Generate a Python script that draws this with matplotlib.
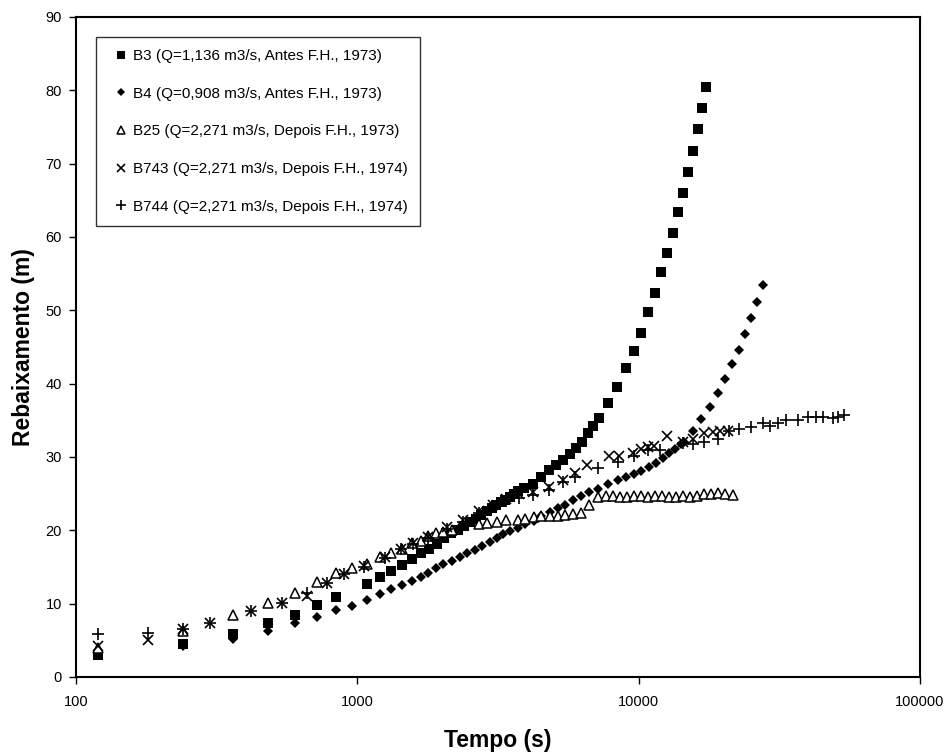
import matplotlib
matplotlib.use("Agg")
import matplotlib.pyplot as plt

plt.rcParams['font.family'] = ['Liberation Sans', 'DejaVu Sans']

# B3 - squares
b3_t = [120, 240, 360, 480, 600, 720, 840, 1080, 1200, 1320, 1440, 1560, 1680,
        1800, 1920, 2040, 2160, 2280, 2400, 2520, 2640, 2760, 2880, 3000, 3120,
        3240, 3360, 3480, 3600, 3720, 3900, 4200, 4500, 4800, 5100, 5400, 5700,
        6000, 6300, 6600, 6900, 7200, 7800, 8400, 9000, 9600, 10200, 10800,
        11400, 12000, 12600, 13200, 13800, 14400, 15000, 15600, 16200, 16800, 17400]
b3_s = [3.0, 4.5, 5.9, 7.3, 8.5, 9.8, 10.9, 12.7, 13.7, 14.5, 15.3, 16.1, 16.9,
        17.5, 18.2, 18.9, 19.6, 20.1, 20.6, 21.2, 21.6, 22.1, 22.6, 23.0, 23.4,
        23.8, 24.2, 24.6, 25.0, 25.3, 25.8, 26.3, 27.3, 28.2, 28.9, 29.6, 30.4,
        31.2, 32.0, 33.3, 34.2, 35.3, 37.4, 39.5, 42.1, 44.5, 46.9, 49.8,
        52.4, 55.2, 57.8, 60.5, 63.4, 66.0, 68.9, 71.7, 74.7, 77.6, 80.5]

# B4 - diamonds
b4_t = [120, 240, 360, 480, 600, 720, 840, 960, 1080, 1200, 1320, 1440, 1560,
        1680, 1790, 1910, 2020, 2170, 2310, 2460, 2610, 2780, 2950, 3140, 3290,
        3490, 3710, 3960, 4230, 4510, 4830, 5150, 5490, 5860, 6250, 6670, 7140,
        7760, 8410, 8990, 9600, 10160, 10860, 11490, 12170, 12780, 13430, 14100,
        14450, 15560, 16630, 17900, 19100, 20230, 21430, 22700, 23900, 25060,
        26320, 27630]
b4_s = [3.3, 4.2, 5.2, 6.3, 7.3, 8.2, 9.1, 9.7, 10.5, 11.3, 12.0, 12.6, 13.1,
        13.7, 14.2, 14.9, 15.4, 15.8, 16.3, 16.9, 17.3, 17.9, 18.4, 18.9, 19.5,
        19.9, 20.3, 20.8, 21.3, 21.9, 22.5, 23.0, 23.5, 24.1, 24.7, 25.2, 25.7,
        26.3, 26.8, 27.3, 27.7, 28.1, 28.6, 29.2, 29.8, 30.5, 31.1, 31.8,
        32.0, 33.5, 35.2, 36.8, 38.7, 40.6, 42.7, 44.6, 46.8, 49.0,
        51.1, 53.5]

# B25 - open triangles
b25_t = [120, 240, 360, 480, 600, 720, 840, 960, 1080, 1200, 1320, 1440, 1560,
         1680, 1790, 1910, 2020, 2170, 2700, 2900, 3130, 3380, 3710, 3960,
         4230, 4510, 4830, 5150, 5490, 5860, 6250, 6670, 7140, 7630, 8080, 8560,
         9070, 9600, 10170, 10770, 11400, 12080, 12790, 13540, 14340, 15190,
         16090, 17030, 18040, 19100, 20230, 21600]
b25_s = [4.0, 6.3, 8.4, 10.1, 11.5, 13.0, 14.2, 14.9, 15.4, 16.4, 16.9, 17.4, 18.3,
         18.6, 19.2, 19.6, 19.8, 20.1, 20.9, 21.0, 21.2, 21.4, 21.4, 21.6,
         21.8, 21.9, 22.0, 22.0, 22.1, 22.2, 22.3, 23.5, 24.5, 24.7, 24.7, 24.6,
         24.6, 24.7, 24.7, 24.6, 24.7, 24.7, 24.6, 24.6, 24.7, 24.6,
         24.7, 25.0, 25.0, 25.1, 25.0, 24.8]

# B743 - x
b743_t = [120, 180, 240, 300, 420, 540, 660, 780, 900, 1060, 1250, 1430, 1580,
          1790, 2090, 2380, 2700, 3030, 3380, 3740, 4200, 4790, 5400, 5920,
          6560, 7820, 8480, 9530, 10160, 10770, 11300, 12650, 14340, 15560,
          17050, 18330, 19450, 20750]
b743_s = [4.2, 5.0, 6.5, 7.4, 9.0, 10.1, 11.0, 12.8, 14.0, 15.2, 16.3, 17.5, 18.3,
          19.1, 20.4, 21.4, 22.6, 23.5, 24.3, 24.9, 25.2, 25.9, 26.9, 27.8,
          28.9, 30.1, 30.1, 30.5, 31.1, 31.4, 31.5, 32.9, 32.0, 32.5,
          33.3, 33.4, 33.6, 33.5]

# B744 - +
b744_t = [120, 180, 240, 300, 420, 540, 660, 780, 900, 1060, 1250, 1430, 1580,
          1790, 2090, 2380, 2700, 3030, 3380, 3740, 4200, 4790, 5400, 5920,
          7140, 8420, 9600, 10770, 11880, 14340, 15560, 17030, 19100, 20910,
          22700, 25060, 27630, 29260, 31240, 33360, 36800, 39940, 42650, 45160,
          49030, 51080, 53630]
b744_s = [5.9, 6.0, 6.6, 7.4, 9.0, 10.1, 11.4, 12.8, 14.0, 15.0, 16.2, 17.4, 18.2,
          19.0, 20.2, 21.2, 22.4, 23.3, 24.0, 24.4, 24.8, 25.5, 26.6, 27.3,
          28.5, 29.3, 30.2, 30.9, 30.9, 31.9, 31.8, 32.0, 32.5, 33.5,
          33.8, 34.1, 34.6, 34.2, 34.6, 35.0, 35.0, 35.4, 35.4, 35.4,
          35.3, 35.4, 35.7]

labels = ['B3 (Q=1,136 m3/s, Antes F.H., 1973)',
          'B4 (Q=0,908 m3/s, Antes F.H., 1973)',
          'B25 (Q=2,271 m3/s, Depois F.H., 1973)',
          'B743 (Q=2,271 m3/s, Depois F.H., 1974)',
          'B744 (Q=2,271 m3/s, Depois F.H., 1974)']

fig = plt.figure(figsize=(9.5, 7.54), dpi=100)
ax = fig.add_axes([76 / 950, 77 / 754, 844 / 950, 660 / 754])

ax.plot(b3_t, b3_s, 's', color='black', ms=6.5, mew=0, label=labels[0])
ax.plot(b4_t, b4_s, 'D', color='black', ms=5, mew=0, label=labels[1])
ax.plot(b25_t, b25_s, '^', mfc='white', mec='black', ms=7, mew=1.1, label=labels[2])
ax.plot(b743_t, b743_s, 'x', color='black', ms=7, mew=1.2, label=labels[3])
ax.plot(b744_t, b744_s, '+', color='black', ms=8, mew=1.2, label=labels[4])

ax.set_xscale('log')
ax.set_xlim(100, 100000)
ax.set_ylim(0, 90)
ax.set_xticks([100, 1000, 10000, 100000])
ax.set_xticklabels(['100', '1000', '10000', '100000'])
ax.xaxis.set_minor_locator(matplotlib.ticker.NullLocator())
ax.set_yticks(range(0, 91, 10))

ax.tick_params(axis='both', direction='out', length=5, width=1, labelsize=10.5, pad=5)
ax.tick_params(axis='x', pad=8)
for sp in ax.spines.values():
    sp.set_linewidth(1.5)
    sp.set_color('black')

ax.set_xlabel('Tempo (s)', fontsize=16.5, fontweight='bold', labelpad=14)
ax.set_ylabel('Rebaixamento (m)', fontsize=16.5, fontweight='bold', labelpad=8)

leg = ax.legend(loc='upper left', bbox_to_anchor=(0.0237, 0.970), borderaxespad=0,
                fontsize=11, numpoints=1, handlelength=1.7, handletextpad=-0.05,
                labelspacing=1.55, borderpad=0.8, markerscale=0.85,
                fancybox=False, frameon=True)
leg.get_frame().set_edgecolor('black')
leg.get_frame().set_linewidth(1.0)

fig.savefig('out.png', dpi=100)
